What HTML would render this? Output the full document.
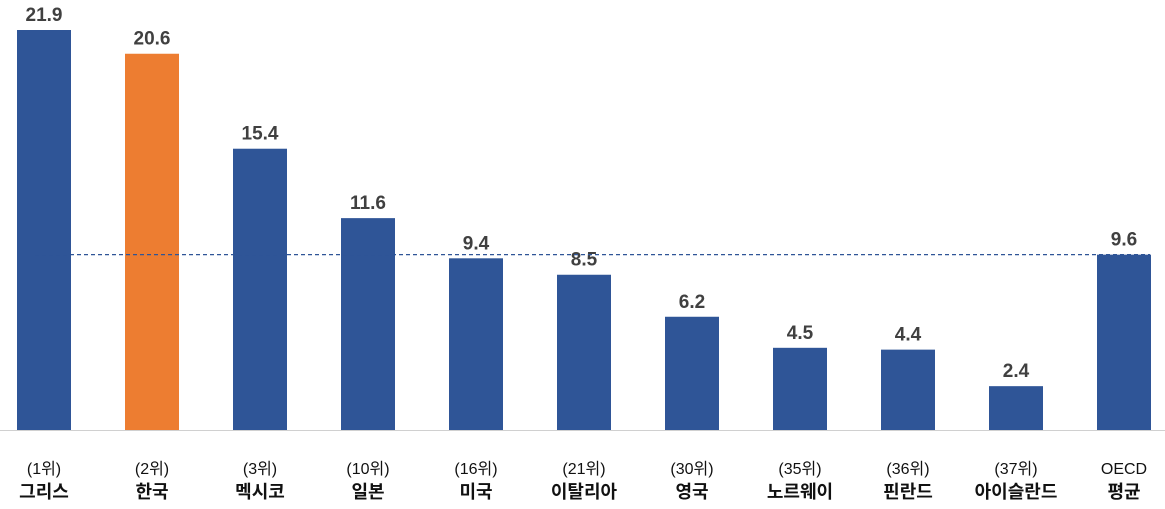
<!DOCTYPE html>
<html><head><meta charset="utf-8"><style>
body{margin:0;background:#fff;width:1165px;height:504px;overflow:hidden}
svg text{font-family:"Liberation Sans","Noto Sans CJK KR",sans-serif}
</style></head><body>
<svg id="chart" width="1165" height="504" xmlns="http://www.w3.org/2000/svg">
<line x1="0" y1="430.5" x2="1165" y2="430.5" stroke="#d0d0d0" stroke-width="1"/>
<g id="bars"></g>
</svg>
<script>
const ranks=["(1위)","(2위)","(3위)","(10위)","(16위)","(21위)","(30위)","(35위)","(36위)","(37위)",""];
const countries=["그리스","한국","멕시코","일본","미국","이탈리아","영국","노르웨이","핀란드","아이슬란드","평균"];
const values=[21.9,20.6,15.4,11.6,9.4,8.5,6.2,4.5,4.4,2.4,9.6];
const avgValue=9.6;
const NS="http://www.w3.org/2000/svg";
const base=430, scale=400/21.9;
const y=v=>base-v*scale;
const xc=i=>44+108*i;
const g=document.getElementById('bars');
function mk(t,a){const e=document.createElementNS(NS,t);for(const k in a)e.setAttribute(k,a[k]);g.appendChild(e);return e;}
values.forEach((v,i)=>{
  const r=mk('rect',{x:xc(i)-27,y:y(v),width:54,height:base-y(v),fill:i===1?'#ED7D31':'#2F5597'});
  
  
  const t=mk('text',{x:xc(i),y:y(v)-9,'text-anchor':'middle','font-size':'19','font-weight':'bold',fill:'#404040'});
  t.textContent=v.toFixed(1);
  
  
  const r1=mk('text',{x:xc(i),y:474,'text-anchor':'middle','font-size':'16',fill:'#111'});
  r1.textContent=i===10?'OECD':ranks[i];
  
  
  const c=mk('text',{x:xc(i),y:498,'text-anchor':'middle','font-size':'18','font-weight':'bold',fill:'#111'});
  c.textContent=countries[i];
  
  
});
const l=mk('line',{x1:35,x2:1150,y1:y(avgValue),y2:y(avgValue),stroke:'#2F5597','stroke-width':1.2,'stroke-dasharray':'4,3'});


</script>
</body></html>
